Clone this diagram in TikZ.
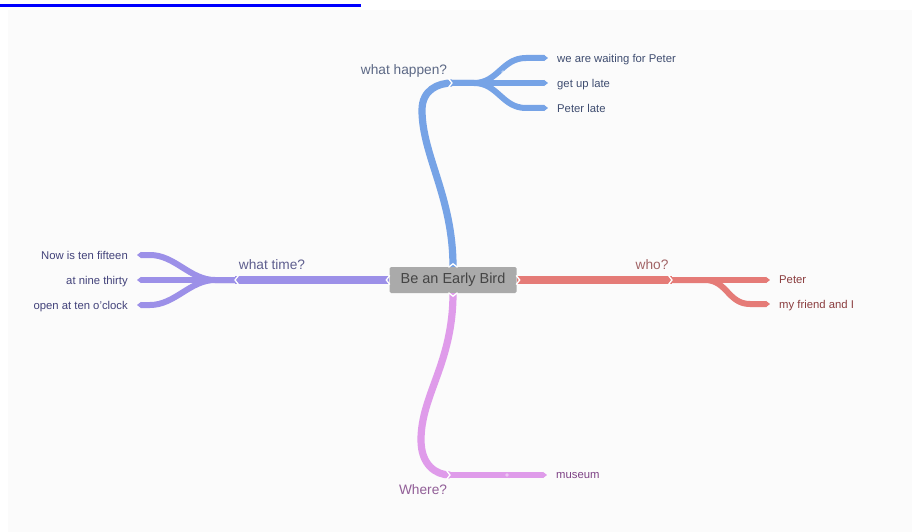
\documentclass[tikz,border=0pt]{standalone}
\usepackage{fontspec}
\setmainfont{Liberation Sans}
\usetikzlibrary{arrows.meta}
\definecolor{bgpaper}{HTML}{FBFBFB}
\definecolor{linkblue}{HTML}{0000FF}
\definecolor{rootgray}{HTML}{AAAAAA}
\definecolor{roottext}{HTML}{444444}
\definecolor{happenband}{HTML}{76A3E6}
\definecolor{happentext}{HTML}{3F4D70}
\definecolor{timeband}{HTML}{9C90E8}
\definecolor{timetext}{HTML}{42427A}
\definecolor{whoband}{HTML}{E57B77}
\definecolor{whotext}{HTML}{8A3C3E}
\definecolor{whereband}{HTML}{DF9BEA}
\definecolor{wheretext}{HTML}{7E4285}
\tikzset{
  trunk/.style={line width=7.2pt},
  band/.style={line width=6pt, -{Triangle[length=4pt,width=6pt]}},
  root/.style={fill=rootgray, text=roottext, rounded corners=1.5pt,
    minimum width=127pt, minimum height=26pt, inner sep=0pt,
    font=\fontsize{14.5}{17}\selectfont},
  topic/.style={inner sep=0pt, text depth=0pt, font=\fontsize{13.7}{16}\selectfont},
  leaf/.style={inner ysep=0pt, inner xsep=9pt, text depth=0pt, font=\fontsize{11.3}{13}\selectfont},
  notch/.pic={\draw[white, line width=1.3pt] (-3.5,-4.5) -- (0,0) -- (-3.5,4.5);}
}
\begin{document}
\begin{tikzpicture}[x=1pt,y=-1pt]
\useasboundingbox (0,0) rectangle (912,532);
\fill[white] (0,0) rectangle (912,532);
\fill[bgpaper] (8,10) rectangle (912,532);
\draw[linkblue, line width=2.8pt] (0,5.5) -- (361,5.5);

% centre and forks
\node[root] (bird) at (453,280) {Be an Early Bird};
\coordinate (happen) at (452,83);
\coordinate (time) at (235,280);
\coordinate (who) at (672,280);
\coordinate (where) at (450,475);

% topics
\node[topic, text=happentext!85!white] (happenlbl) at (404,70) {what happen?};
\node[topic, text=timetext!85!white] (timelbl) at (272,265) {what time?};
\node[topic, text=whotext!80!white] (wholbl) at (652,265) {who?};
\node[topic, text=wheretext!85!white] (wherelbl) at (423,490) {Where?};

% leaves
\node[leaf, anchor=west, text=happentext] (waiting) at (548,58) {we are waiting for Peter};
\node[leaf, anchor=west, text=happentext] (getup) at (548,83) {get up late};
\node[leaf, anchor=west, text=happentext] (peterlate) at (548,108) {Peter late};
\node[leaf, anchor=east, text=timetext] (fifteen) at (137,255) {Now is ten fifteen};
\node[leaf, anchor=east, text=timetext] (nine) at (137,280) {at nine thirty};
\node[leaf, anchor=east, text=timetext] (oclock) at (137,305) {open at ten o'clock};
\node[leaf, anchor=west, text=whotext] (peter) at (770,280) {Peter};
\node[leaf, anchor=west, text=whotext] (friend) at (770,304) {my friend and I};
\node[leaf, anchor=west, text=wheretext] (museum) at (547,475) {museum};

% what happen?
\draw[trunk, happenband] (bird.north) .. controls +(0,-70) and +(0,45) .. (422,110)
  .. controls +(0,-20) and +(-14,0) .. (happen);
\draw[band, happenband] (happen) -- ++(22,0) .. controls +(24,0) and +(-24,0) .. ([xshift=-22pt]waiting.west) -- (waiting.west);
\draw[band, happenband] (happen) -- (getup.west);
\draw[band, happenband] (happen) -- ++(22,0) .. controls +(24,0) and +(-24,0) .. ([xshift=-22pt]peterlate.west) -- (peterlate.west);

% what time?
\draw[trunk, timeband] (bird.west) -- (time);
\draw[band, timeband] (time) -- ++(-20,0) .. controls +(-25,0) and +(25,0) .. ([xshift=13pt]fifteen.east) -- (fifteen.east);
\draw[band, timeband] (time) -- (nine.east);
\draw[band, timeband] (time) -- ++(-20,0) .. controls +(-25,0) and +(25,0) .. ([xshift=13pt]oclock.east) -- (oclock.east);

% who?
\draw[trunk, whoband] (bird.east) -- (who);
\draw[band, whoband] (who) -- (peter.west);
\draw[band, whoband] (who) -- ++(33,0) .. controls +(22,0) and +(-22,0) .. ([xshift=-20pt]friend.west) -- (friend.west);

% Where?
\draw[trunk, whereband] (bird.south) .. controls +(0,70) and +(0,-45) .. (421,440)
  .. controls +(0,25) and +(-14,0) .. (where);
\draw[band, whereband] (where) -- (museum.west);

% notches and dots
\pic at (happen) {notch};
\pic[rotate=180] at (time) {notch};
\pic at (who) {notch};
\pic at (where) {notch};
\pic[rotate=90] at ([yshift=3pt]bird.north) {notch};
\pic[rotate=-90] at ([yshift=-3pt]bird.south) {notch};
\pic[rotate=180] at ([xshift=-3pt]bird.west) {notch};
\pic at ([xshift=3pt]bird.east) {notch};
\fill[white, opacity=0.45] (503,72) circle (1.8);
\fill[white, opacity=0.45] (507,475) circle (1.8);
\end{tikzpicture}
\end{document}
